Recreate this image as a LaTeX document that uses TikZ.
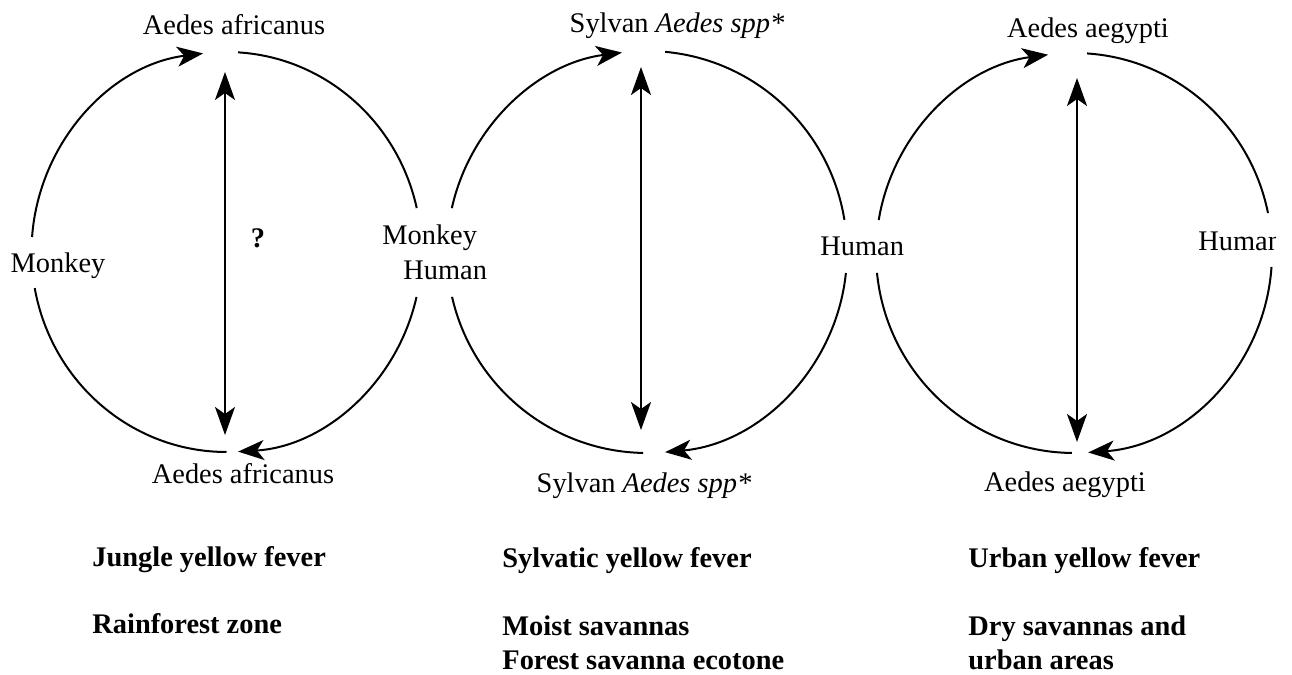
\documentclass[tikz,border=0pt]{standalone}
\usepackage{fontspec}
\setmainfont{Liberation Serif}
\usetikzlibrary{arrows.meta}

\tikzset{
  cyc/.style={line width=1pt},
  cycarr/.style={line width=1pt, -{Stealth[length=13pt,width=10pt,inset=3.5pt]}},
  dblarr/.style={line width=1pt, {Stealth[length=14pt,width=10pt,inset=3.5pt]}-{Stealth[length=14pt,width=10pt,inset=3.5pt]}},
  lbl/.style={inner sep=0pt, font=\fontsize{14.2}{17}\selectfont},
  zone/.style={inner sep=0pt, anchor=base west, font=\fontsize{14.2}{17}\selectfont\bfseries},
}

\begin{document}
\begin{tikzpicture}
  [x=0.5pt, y=0.5pt]
  \useasboundingbox (0,0) rectangle (1292,675);

  \coordinate (c1) at (226.5,423);
  \coordinate (c2) at (647,423);
  \coordinate (c3) at (1074,422);

  % jungle cycle
  \draw[cyc] (c1) ++(270:195 and 200) arc[start angle=270, end angle=190.4, x radius=195, y radius=200];
  \draw[cycarr] (c1) ++(175.7:195 and 200) arc[start angle=175.7, end angle=96.9, x radius=195, y radius=200];
  \draw[cyc] (c1) ++(86.6:195 and 200) arc[start angle=86.6, end angle=12.7, x radius=195, y radius=200];
  \draw[cycarr] (c1) ++(-13:195 and 200) arc[start angle=-13, end angle=-86.6, x radius=195, y radius=200];

  % sylvatic cycle
  \draw[cyc] (c2) ++(268.9:200 and 201) arc[start angle=268.9, end angle=192.9, x radius=200, y radius=201];
  \draw[cycarr] (c2) ++(167.4:200 and 201) arc[start angle=167.4, end angle=97.2, x radius=200, y radius=201];
  \draw[cyc] (c2) ++(84.8:200 and 201) arc[start angle=84.8, end angle=9.2, x radius=200, y radius=201];
  \draw[cycarr] (c2) ++(-6:200 and 201) arc[start angle=-6, end angle=-84.8, x radius=200, y radius=201];

  % urban cycle
  \draw[cyc] (c3) ++(269.4:198 and 200) arc[start angle=269.4, end angle=185.7, x radius=198, y radius=200];
  \draw[cycarr] (c3) ++(170.5:198 and 200) arc[start angle=170.5, end angle=97.5, x radius=198, y radius=200];
  \draw[cyc] (c3) ++(86.2:198 and 200) arc[start angle=86.2, end angle=11.5, x radius=198, y radius=200];
  \draw[cycarr] (c3) ++(-4:198 and 200) arc[start angle=-4, end angle=-85.9, x radius=198, y radius=200];

  % vertical transmission
  \coordinate (v1t) at (225,603);
  \coordinate (v1b) at (225,240);
  \coordinate (v2t) at (641,608);
  \coordinate (v2b) at (641,245);
  \coordinate (v3t) at (1077,597);
  \coordinate (v3b) at (1077,233);
  \draw[dblarr] (v1t) -- (v1b);
  \draw[dblarr] (v2t) -- (v2b);
  \draw[dblarr] (v3t) -- (v3b);

  % vectors and hosts
  \node[lbl, anchor=base] (top1) at (234,640) {Aedes africanus};
  \node[lbl, anchor=base] (bot1) at (243,191) {Aedes africanus};
  \node[lbl, anchor=base] (top2) at (677,642) {Sylvan \textit{Aedes spp*}};
  \node[lbl, anchor=base] (bot2) at (644,182) {Sylvan \textit{Aedes spp*}};
  \node[lbl, anchor=base] (top3) at (1088,637) {Aedes aegypti};
  \node[lbl, anchor=base] (bot3) at (1065,183) {Aedes aegypti};

  \node[lbl, anchor=base] (monkey1) at (58,402) {Monkey};
  \node[lbl, anchor=base, font=\fontsize{14.2}{17}\selectfont\bfseries] (qmark) at (258,427) {?};
  \node[lbl, anchor=base west] (mhMonkey) at (382,430) {Monkey};
  \node[lbl, anchor=base west] (mhHuman) at (403,395) {Human};
  \node[lbl, anchor=base west] (human2) at (820,419) {Human};
  % text frame cuts the last letter
  \begin{scope}
    \clip (1190,390) rectangle (1275,450);
    \node[lbl, anchor=base west] (human3) at (1198,424) {Human};
  \end{scope}

  % cycle types and zones
  \node[zone] (jungle) at (92,108) {Jungle yellow fever};
  \node[zone] (rain) at (92,41) {Rainforest zone};
  \node[zone] (sylvatic) at (502,107) {Sylvatic yellow fever};
  \node[zone] (moist) at (502,39) {Moist savannas};
  \node[zone] (ecotone) at (502,5) {Forest savanna ecotone};
  \node[zone] (urban) at (968,107) {Urban yellow fever};
  \node[zone] (dry) at (968,39) {Dry savannas and};
  \node[zone] (areas) at (968,5) {urban areas};
\end{tikzpicture}
\end{document}
